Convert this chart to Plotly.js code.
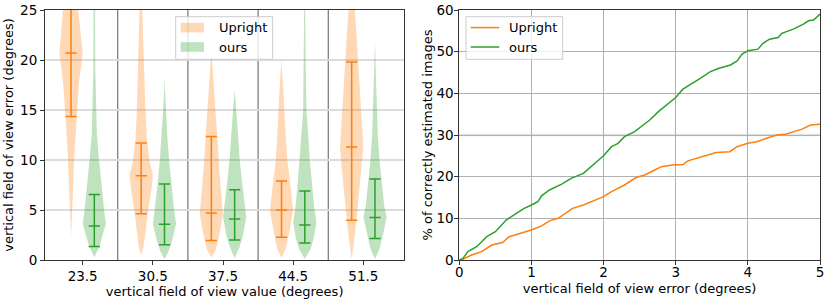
<!DOCTYPE html>
<html><head><meta charset="utf-8">
<script src="https://cdn.plot.ly/plotly-3.0.1.min.js"></script>
<style>html,body{margin:0;padding:0;background:#fff}</style>
</head><body><div id="chart" style="width:830px;height:299px"></div>
<script>
// ---------- left panel: violins ----------
const categories = ['23.5', '30.5', '37.5', '44.5', '51.5'];
const seriesNames = ['Upright', 'ours'];
// summary bars (low cap / middle cap / high cap)
const uprightLow  = [14.35, 4.62, 1.95, 2.27, 3.98];
const uprightMid  = [20.7, 8.43, 4.7, 5.0, 11.3];
const uprightHigh = [27.0, 11.7, 12.35, 7.9, 19.8];
const oursLow  = [1.34, 1.53, 1.99, 1.7, 2.15];
const oursMid  = [3.4, 3.57, 4.1, 3.5, 4.24];
const oursHigh = [6.55, 7.6, 7.03, 6.9, 8.1];
// density profiles (error value, relative width)
const uprightDensY = [
  [2.3, 4.6, 7.3, 10, 12.6, 15, 17.7, 20.7, 22.6, 25, 27, 29],
  [0.5, 1.3, 2.6, 5, 7, 8.5, 10, 12, 15, 19.3, 25, 28],
  [0.25, 1.1, 2.6, 4.6, 7.3, 10, 12.6, 16, 18.3, 21],
  [0.2, 1.1, 2.6, 5, 7.3, 10, 12.6, 15, 17.7, 20],
  [0.1, 1.1, 2.6, 5, 7.3, 9.3, 11.3, 12.6, 15, 17.3, 20, 22.6, 25, 27, 29]
];
const uprightDensW = [
  [0, 0.1, 0.18, 0.26, 0.38, 0.5, 0.68, 1.0, 0.84, 0.7, 0.45, 0],
  [0, 0.2, 0.35, 0.6, 0.88, 1.0, 0.7, 0.5, 0.37, 0.26, 0.15, 0],
  [0, 0.4, 0.7, 1.0, 0.8, 0.63, 0.5, 0.3, 0.15, 0],
  [0, 0.36, 0.64, 1.0, 0.79, 0.5, 0.36, 0.23, 0.14, 0],
  [0, 0.14, 0.29, 0.5, 0.67, 0.87, 1.0, 0.94, 0.81, 0.69, 0.53, 0.4, 0.29, 0.18, 0]
];
const oursDensY = [
  [0.27, 1.44, 2.6, 3.6, 4.95, 7.3, 10, 12.6, 15, 19.3, 25, 28],
  [0.1, 0.9, 1.9, 3.6, 5.3, 7.3, 10, 12.6, 16, 18.2],
  [0.2, 1.3, 2.6, 4.3, 7.3, 10, 12.6, 15, 17],
  [0.1, 1.1, 2.3, 3.8, 5.3, 7.3, 10, 12.6, 15, 19.3, 25, 28],
  [0.1, 1.1, 2.6, 4.3, 5.3, 7.3, 10, 12.6, 15, 19.3, 21.8]
];
const oursDensW = [
  [0, 0.47, 0.73, 1.0, 0.85, 0.62, 0.41, 0.22, 0.17, 0.08, 0.07, 0],
  [0, 0.37, 0.65, 1.0, 0.8, 0.62, 0.4, 0.23, 0.06, 0],
  [0, 0.43, 0.74, 1.0, 0.69, 0.44, 0.29, 0.14, 0],
  [0, 0.5, 0.79, 1.0, 0.81, 0.64, 0.43, 0.29, 0.14, 0.08, 0.06, 0],
  [0, 0.39, 0.71, 1.0, 0.81, 0.63, 0.39, 0.24, 0.16, 0.06, 0]
];

// ---------- right panel: cumulative curves ----------
const uprightCumX = [0, 0.05, 0.17, 0.31, 0.45, 0.6, 0.69, 0.87, 1.0, 1.14, 1.25, 1.37, 1.48, 1.57, 1.72, 1.88, 2.0, 2.11, 2.2, 2.29, 2.45, 2.57, 2.71, 2.8, 2.96, 3.1, 3.17, 3.29, 3.43, 3.56, 3.75, 3.85, 4.0, 4.12, 4.26, 4.4, 4.52, 4.63, 4.75, 4.87, 5.0];
const uprightCumY = [0, 0.2, 1.2, 2, 3.6, 4.2, 5.6, 6.6, 7.2, 8.2, 9.4, 10, 11.4, 12.4, 13.2, 14.4, 15.2, 16.4, 17.2, 18, 19.8, 20.4, 21.6, 22.4, 22.8, 22.9, 23.8, 24.4, 25.2, 25.8, 26, 27.2, 28, 28.4, 29.2, 30, 30.2, 30.8, 31.4, 32.4, 32.6];
const oursCumX = [0, 0.05, 0.12, 0.24, 0.31, 0.38, 0.5, 0.57, 0.65, 0.79, 0.9, 1.0, 1.09, 1.14, 1.25, 1.42, 1.55, 1.72, 1.83, 1.93, 2.0, 2.11, 2.2, 2.29, 2.43, 2.55, 2.64, 2.76, 2.87, 3.0, 3.1, 3.2, 3.34, 3.48, 3.6, 3.76, 3.85, 3.92, 4.0, 4.14, 4.21, 4.3, 4.42, 4.47, 4.63, 4.77, 4.84, 4.91, 5.0];
const oursCumY = [0, 0.4, 2, 3.2, 4.4, 5.6, 6.8, 8, 9.6, 11.2, 12.4, 13.2, 14, 15.4, 16.8, 18.2, 19.6, 20.8, 22.4, 24, 25, 27.2, 28, 29.6, 30.8, 32.4, 33.6, 35.6, 37.2, 39, 41, 42, 43.6, 45.2, 46, 46.8, 47.8, 49.4, 50.2, 50.6, 52, 53, 53.4, 54.4, 55.4, 56.6, 57.4, 57.6, 59];

const ORANGE = '#ff7f0e', GREEN = '#2ca02c';
const ORANGE_FILL = 'rgba(255,127,14,0.3)', GREEN_FILL = 'rgba(44,160,44,0.3)';
const OFFSET = 0.166, HALFW = 0.165, CAP = 0.08;

const traces = [];
function violinTraces(name, densY, densW, low, mid, high, side, fill, color) {
  categories.forEach((c, i) => {
    const cx = i + side * OFFSET;
    const xs = [], ys = [];
    densY[i].forEach((y, k) => { xs.push(cx + densW[i][k] * HALFW); ys.push(y); });
    for (let k = densY[i].length - 1; k >= 0; k--) { xs.push(cx - densW[i][k] * HALFW); ys.push(densY[i][k]); }
    traces.push({type: 'scatter', mode: 'lines', name: name, x: xs, y: ys, fill: 'toself', fillcolor: fill,
      line: {width: 0, color: 'rgba(0,0,0,0)'}, showlegend: false, hoverinfo: 'skip', xaxis: 'x', yaxis: 'y'});
  });
  const lx = [], ly = [];
  categories.forEach((c, i) => {
    const cx = i + side * OFFSET;
    lx.push(cx, cx, null); ly.push(low[i], high[i], null);
    [low[i], mid[i], high[i]].forEach(v => { lx.push(cx - CAP, cx + CAP, null); ly.push(v, v, null); });
  });
  traces.push({type: 'scatter', mode: 'lines', name: name, x: lx, y: ly, line: {color: color, width: 1.5},
    showlegend: false, hoverinfo: 'skip', xaxis: 'x', yaxis: 'y'});
}
violinTraces(seriesNames[0], uprightDensY, uprightDensW, uprightLow, uprightMid, uprightHigh, -1, ORANGE_FILL, ORANGE);
violinTraces(seriesNames[1], oursDensY, oursDensW, oursLow, oursMid, oursHigh, 1, GREEN_FILL, GREEN);

traces.push({type: 'scatter', mode: 'lines', name: seriesNames[0], x: uprightCumX, y: uprightCumY,
  line: {color: ORANGE, width: 1.5}, showlegend: false, xaxis: 'x2', yaxis: 'y2'});
traces.push({type: 'scatter', mode: 'lines', name: seriesNames[1], x: oursCumX, y: oursCumY,
  line: {color: GREEN, width: 1.5}, showlegend: false, xaxis: 'x2', yaxis: 'y2'});

const W = 830, PT = 10, PH = 250;
const px = v => v / W;
const py = v => (PT + PH - v) / PH;

const shapes = [];
for (let i = 0; i < categories.length - 1; i++) {
  shapes.push({type: 'line', xref: 'x', yref: 'y domain', x0: i + 0.5, x1: i + 0.5, y0: 0, y1: 1,
    line: {color: '#5a5a5a', width: 1}, layer: 'below'});
}
shapes.push({type: 'line', xref: 'x2 domain', yref: 'y2', x0: 0, x1: 1, y0: 30, y1: 30,
  line: {color: '#e2e2e2', width: 2.5}, layer: 'below'});

// legends (left: patches, right: lines)
const legendRows = [27.6, 47];
const annotations = [];
function legendBox(x0, x1) {
  shapes.push({type: 'rect', xref: 'paper', yref: 'paper', x0: px(x0), x1: px(x1), y0: py(59.3), y1: py(16.7),
    fillcolor: 'rgba(255,255,255,0.8)', line: {color: '#cccccc', width: 1}, layer: 'above'});
}
legendBox(175.7, 272.7);
[ORANGE_FILL, GREEN_FILL].forEach((f, k) => {
  shapes.push({type: 'rect', xref: 'paper', yref: 'paper', x0: px(180.7), x1: px(204),
    y0: py(legendRows[k] + 4.8), y1: py(legendRows[k] - 4.8), fillcolor: f, line: {width: 0}, layer: 'above'});
  annotations.push({xref: 'paper', yref: 'paper', x: px(216.5), y: py(legendRows[k]), text: seriesNames[k],
    showarrow: false, xanchor: 'left', yanchor: 'middle', font: {size: 13}});
});
legendBox(466, 562.7);
[ORANGE, GREEN].forEach((c, k) => {
  shapes.push({type: 'line', xref: 'paper', yref: 'paper', x0: px(470.7), x1: px(499.3),
    y0: py(legendRows[k]), y1: py(legendRows[k]), line: {color: c, width: 1.5}, layer: 'above'});
  annotations.push({xref: 'paper', yref: 'paper', x: px(506.5), y: py(legendRows[k]), text: seriesNames[k],
    showarrow: false, xanchor: 'left', yanchor: 'middle', font: {size: 13}});
});

const axisCommon = {showline: true, mirror: true, linecolor: '#333', linewidth: 1, ticks: 'outside', ticklen: 4,
  tickcolor: '#333', zeroline: false, tickfont: {size: 13.5}, fixedrange: true};

const layout = {
  width: 830, height: 299,
  margin: {l: 0, r: 0, t: PT, b: 299 - PT - PH},
  paper_bgcolor: 'white', plot_bgcolor: 'white',
  font: {family: 'DejaVu Sans', size: 13, color: '#000'},
  showlegend: false,
  xaxis: Object.assign({}, axisCommon, {domain: [px(45), px(404.3)], range: [-0.537, 4.584],
    tickvals: categories.map((c, i) => i), ticktext: categories, showgrid: false,
    title: {text: 'vertical field of view value (degrees)', standoff: 0, font: {size: 13}}}),
  yaxis: Object.assign({}, axisCommon, {domain: [0, 1], range: [0, 25], dtick: 5, showgrid: true,
    gridcolor: '#dcdcdc', gridwidth: 2,
    title: {text: 'vertical field of view error (degrees)', standoff: 3, font: {size: 13}}}),
  xaxis2: Object.assign({}, axisCommon, {domain: [px(459.3), px(820)], anchor: 'y2', range: [0, 5], dtick: 1,
    showgrid: true, gridcolor: '#b0b0b0', gridwidth: 1, ticklabelstandoff: -4,
    title: {text: 'vertical field of view error (degrees)', standoff: 4, font: {size: 13}}}),
  yaxis2: Object.assign({}, axisCommon, {domain: [0, 1], anchor: 'x2', range: [0, 60], dtick: 10,
    showgrid: true, gridcolor: '#b0b0b0', gridwidth: 1, ticklabelstandoff: -2,
    title: {text: '% of correctly estimated images', standoff: 0, font: {size: 13}}}),
  shapes: shapes,
  annotations: annotations
};

Plotly.newPlot('chart', traces, layout, {displayModeBar: false, staticPlot: true});
</script></body></html>
